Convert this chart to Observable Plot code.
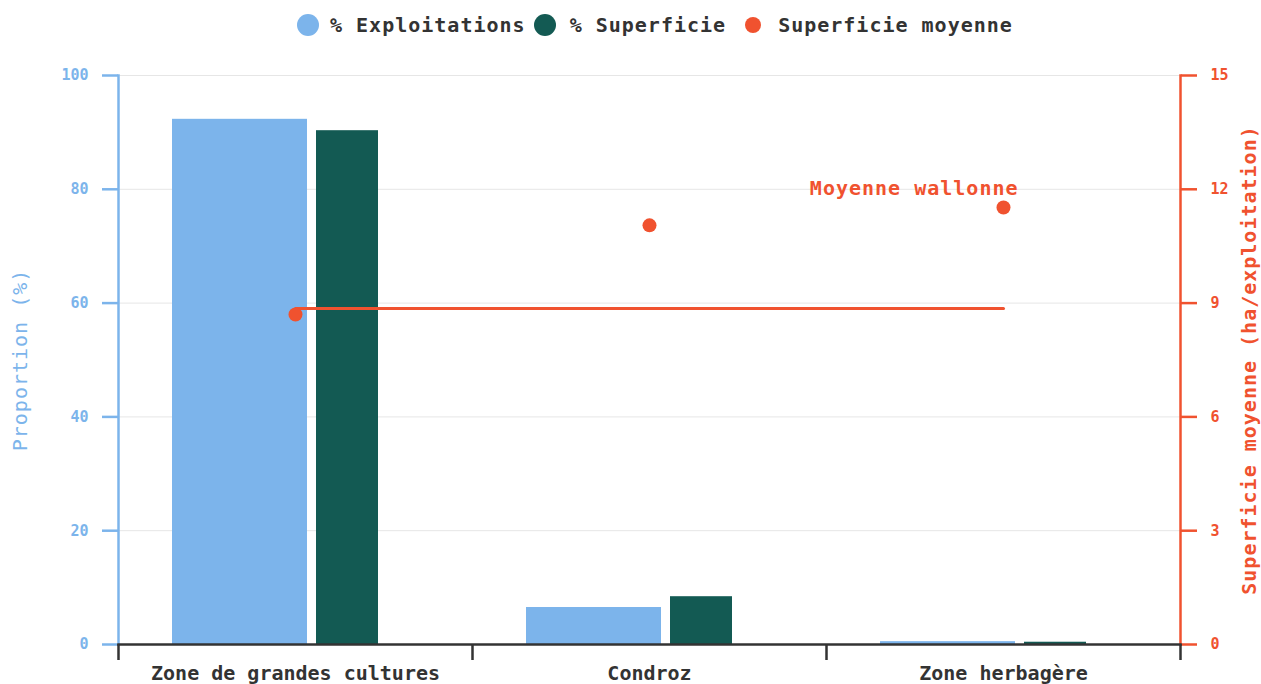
<!DOCTYPE html>
<html><head><meta charset="utf-8">
<script src="https://cdn.jsdelivr.net/npm/d3@7"></script>
<script src="https://cdn.jsdelivr.net/npm/@observablehq/plot@0.6"></script>
<style>
body{margin:0;background:#fff;font-family:"DejaVu Sans Mono",monospace;}
#legend{height:50px;display:flex;align-items:center;padding-left:297px;box-sizing:border-box;font-weight:bold;font-size:20px;letter-spacing:1px;color:#333;}
#legend .sw{border-radius:50%;flex:none;}
#legend span{white-space:pre;}
#chart g[aria-label="text"] text{letter-spacing:1px;}
</style></head><body>
<div id="legend"></div>
<div id="chart"></div>
<script>
const categories = ["Zone de grandes cultures", "Condroz", "Zone herbagère"];
const pctExploitations = [92.3, 6.5, 0.5];
const pctSuperficie = [90.3, 8.4, 0.4];
const superficieMoyenne = [8.70, 11.05, 11.52];
const moyenneWallonne = 8.86;
const leftTicks = [0, 20, 40, 60, 80, 100];
const rightTicks = [0, 3, 6, 9, 12, 15];
const seriesNames = ["% Exploitations", "% Superficie", "Superficie moyenne"];
const leftTitle = "Proportion (%)";
const rightTitle = "Superficie moyenne (ha/exploitation)";
const annotation = "Moyenne wallonne";
const colors = ["#7cb4eb", "#135a53", "#f0522f"];

// legend
const legend = document.getElementById("legend");
const swSizes = [22, 22, 16];
const swMarginR = [11, 14, 17];
const txtMarginR = [8, 19, 0];
seriesNames.forEach((n, i) => {
  const s = document.createElement("div");
  s.className = "sw";
  s.style.width = swSizes[i] + "px";
  s.style.height = swSizes[i] + "px";
  s.style.background = colors[i];
  s.style.marginRight = swMarginR[i] + "px";
  legend.appendChild(s);
  const t = document.createElement("span");
  t.textContent = n;
  t.style.marginRight = txtMarginR[i] + "px";
  legend.appendChild(t);
});

const W = 1261, H = 634, mL = 118, mR = 81, mT = 25, mB = 40;
const k = 100 / 15;
const bw = (W - mL - mR) / categories.length;
const pxPerUnit = (H - mT - mB) / 100;
const data = categories.map((c, i) => ({c, e: pctExploitations[i], s: pctSuperficie[i], m: superficieMoyenne[i]}));
const avgLine = [{c: categories[0], v: moyenneWallonne}, {c: categories[categories.length - 1], v: moyenneWallonne}];
const font = '"DejaVu Sans Mono", monospace';

const chart = Plot.plot({
  width: W, height: H,
  marginLeft: mL, marginRight: mR, marginTop: mT, marginBottom: mB,
  style: {fontFamily: font, background: "white", overflow: "visible"},
  x: {type: "band", domain: categories, padding: 0},
  y: {domain: [0, 100]},
  marks: [
    Plot.gridY(leftTicks, {stroke: "#e6e6e6", strokeOpacity: 1, strokeWidth: 1}),
    Plot.barY(data, {x: "c", y: "e", fill: colors[0], insetLeft: 54, insetRight: 165}),
    Plot.barY(data, {x: "c", y: "s", fill: colors[1], insetLeft: 198, insetRight: 94}),
    Plot.frame({anchor: "left", stroke: colors[0], strokeWidth: 2.5}),
    Plot.frame({anchor: "right", stroke: colors[2], strokeWidth: 2.5}),
    Plot.axisY(leftTicks, {anchor: "left", tickSize: 16, tickPadding: 14, color: colors[0], strokeWidth: 2.5, fontSize: 15, fontWeight: "bold", label: null}),
    Plot.axisY(rightTicks.map(v => v * k), {anchor: "right", tickSize: 16, tickPadding: 14, color: colors[2], strokeWidth: 2.5, fontSize: 15, fontWeight: "bold", tickFormat: d => String(Math.round(d / k)), label: null}),
    Plot.frame({anchor: "bottom", stroke: "#333", strokeWidth: 2.5}),
    Plot.ruleX(categories, {x: d => d, y1: 0, y2: -16 / pxPerUnit, dx: -bw / 2, stroke: "#333", strokeWidth: 2.5}),
    Plot.ruleX(categories.slice(-1), {x: d => d, y1: 0, y2: -16 / pxPerUnit, dx: bw / 2, stroke: "#333", strokeWidth: 2.5}),
    Plot.axisX({anchor: "bottom", tickSize: 0, tickPadding: 21, color: "#333", fontSize: 20, fontWeight: "bold", label: null}),
    Plot.line(avgLine, {x: "c", y: d => d.v * k, stroke: colors[2], strokeWidth: 3}),
    Plot.dot(data, {x: "c", y: d => d.m * k, r: 7, fill: colors[2]}),
    Plot.text([annotation], {x: () => categories[2], y: () => superficieMoyenne[2] * k, text: d => d, dx: 15, dy: -19, textAnchor: "end", fill: colors[2], fontSize: 20, fontWeight: "bold"}),
    Plot.text([leftTitle], {text: d => d, frameAnchor: "left", textAnchor: "middle", dx: -98, rotate: -90, fill: colors[0], fontSize: 20}),
    Plot.text([rightTitle], {text: d => d, frameAnchor: "right", textAnchor: "middle", dx: 69, rotate: -90, fill: colors[2], fontSize: 20, fontWeight: "bold"})
  ]
});
document.getElementById("chart").appendChild(chart);
</script>
</body></html>
